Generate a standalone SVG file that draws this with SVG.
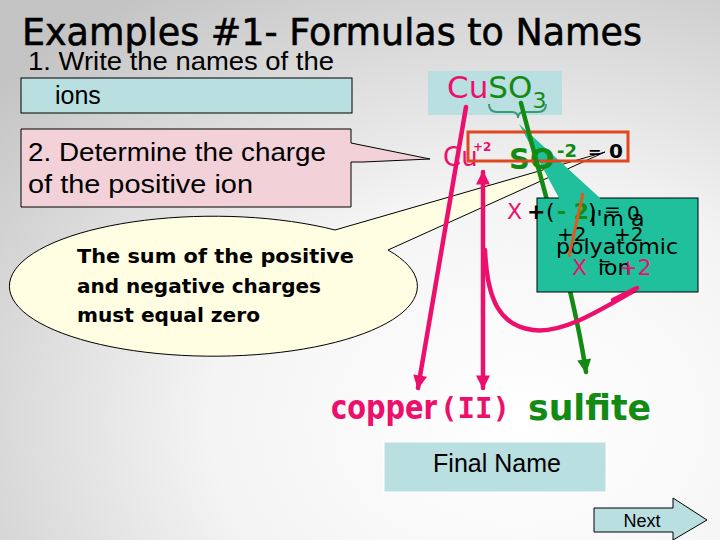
<svg xmlns="http://www.w3.org/2000/svg" width="720" height="540" viewBox="0 0 720 540">
<defs>
<radialGradient id="bg" cx="0.72" cy="0.78" r="0.95">
<stop offset="0" stop-color="#ffffff"/>
<stop offset="0.45" stop-color="#f4f4f4"/>
<stop offset="1" stop-color="#c4c4c4"/>
</radialGradient>
<marker id="ap" viewBox="0 0 10 10" refX="9" refY="5" markerWidth="16" markerHeight="14" markerUnits="userSpaceOnUse" orient="auto-start-reverse">
<path d="M0,0 L10,5 L0,10 Z" fill="#ec0f6c"/>
</marker>
<marker id="ag" viewBox="0 0 10 10" refX="9" refY="5" markerWidth="16" markerHeight="14" markerUnits="userSpaceOnUse" orient="auto">
<path d="M0,0 L10,5 L0,10 Z" fill="#138a13"/>
</marker>
<style>
.ar{font-family:"Liberation Sans",Arial,sans-serif;fill:#000}
.cm{font-family:"Comic Sans MS","DejaVu Sans",sans-serif}
.pk{fill:#ec0f6c}
.gn{fill:#138a13}
.bk{fill:#000}
.cyan{fill:#b9dfe1}
.pl{stroke:#ec0f6c;stroke-width:4.5;fill:none;stroke-linecap:round}
.gl{stroke:#138a13;stroke-width:4.5;fill:none;stroke-linecap:round}
</style>
</defs>
<rect width="720" height="540" fill="url(#bg)"/>

<g id="title">
<text class="cm bk" x="22" y="45" font-size="38" stroke="#000" stroke-width="0.6" textLength="620" lengthAdjust="spacingAndGlyphs">Examples #1- Formulas to Names</text>
</g>

<g id="step1">
<text class="ar" x="28" y="70" font-size="25" textLength="306" lengthAdjust="spacingAndGlyphs">1. Write the names of the</text>
<rect x="21" y="78" width="331" height="35" class="cyan" stroke="#000" stroke-width="1"/>
<text class="ar" x="55" y="104" font-size="25">ions</text>
</g>

<g id="formula">
<rect x="428" y="71" width="134" height="44" class="cyan"/>
<text class="cm" x="447" y="98" font-size="31"><tspan class="pk">Cu</tspan><tspan class="gn">SO</tspan><tspan class="gn" font-size="22" dy="10">3</tspan></text>
<path d="M489,104 Q489,112 497,112 L512,112 Q518,112 518,118 Q518,112 524,112 L538,112 Q546,112 546,104" fill="none" stroke="#3a9a78" stroke-width="2"/>
</g>

<g id="step2">
<path d="M21,129 H351 V143 L430,159 L363,162 H351 V207 H21 Z" fill="#f2d1d9" stroke="#000" stroke-width="1"/>
<text class="ar" x="28" y="161" font-size="25" textLength="298" lengthAdjust="spacingAndGlyphs">2. Determine the charge</text>
<text class="ar" x="28" y="193" font-size="25" textLength="225" lengthAdjust="spacingAndGlyphs">of  the positive ion</text>
</g>

<g id="bubble">
<path d="M335,230 L605,152 L388,250 A204,70 0 1,1 335,230 Z" fill="#fffde2" stroke="#000" stroke-width="1"/>
<text class="cm bk" x="77" y="263" font-size="20" font-weight="bold" textLength="277" lengthAdjust="spacingAndGlyphs">The sum of the positive</text>
<text class="cm bk" x="77" y="293" font-size="20" font-weight="bold" textLength="244" lengthAdjust="spacingAndGlyphs">and negative charges</text>
<text class="cm bk" x="77" y="322" font-size="20" font-weight="bold" textLength="183" lengthAdjust="spacingAndGlyphs">must equal zero</text>
</g>

<g id="teal-callout">
<path d="M537,198 H559 L519,124 L600,198 H698 V292 H537 Z" fill="#1fc09b"/>
</g>

<g id="charges">
<text class="cm pk" x="443" y="166" font-size="26">Cu</text>
<text class="cm pk" x="473" y="151" font-size="12" font-weight="bold">+2</text>
<text class="cm gn" x="509" y="169" font-size="29" font-weight="bold">SO</text>
<text class="cm gn" x="557" y="157" font-size="18" font-weight="bold">-2</text>
<text class="cm bk" x="588" y="157" font-size="16" font-weight="bold">=</text>
<text class="cm bk" x="609" y="158" font-size="20" font-weight="bold">0</text>
<rect x="468" y="132" width="160" height="29" fill="none" stroke="#e0461f" stroke-width="3"/>
</g>

<g id="connectors">
<path class="gl" d="M521,103 C538,170 574,290 586,372" marker-end="url(#ag)"/>
<path class="pl" d="M466,107 L418,388" marker-end="url(#ap)"/>
<path class="pl" d="M483,172 L483,388" marker-start="url(#ap)" marker-end="url(#ap)"/>
<path class="pl" d="M637,289 C600,310 563,334 533,330 C500,326 487,300 485,250"/>
</g>

<g id="teal-box">
<rect x="537" y="198" width="161" height="94" fill="#1fc09b" stroke="#000" stroke-width="1"/>
<path d="M559,198 L600,198" stroke="#1fc09b" stroke-width="2"/>
<text class="cm pk" x="507" y="219" font-size="22">X</text>
<text class="cm bk" x="527" y="219" font-size="22" font-weight="bold">+</text>
<text class="cm bk" x="546" y="219" font-size="22">(</text>
<text class="cm gn" x="557" y="219" font-size="22" font-weight="bold">- 2</text>
<text class="cm bk" x="588" y="219" font-size="22">)</text>
<text class="cm bk" x="604" y="216" font-size="20">=</text>
<text class="cm bk" x="627" y="220" font-size="20">0</text>
<text class="cm bk" x="590" y="226" font-size="22">I'm a</text>
<text class="cm bk" x="557" y="241" font-size="20">+2</text>
<text class="cm bk" x="614" y="241" font-size="20">+2</text>
<text class="cm bk" x="556" y="254" font-size="22" textLength="122" lengthAdjust="spacingAndGlyphs">polyatomic</text>
<text class="cm pk" x="572" y="275" font-size="22">X</text>
<text class="cm bk" x="598" y="275" font-size="22">ion</text>
<text class="cm bk" x="598" y="268" font-size="16">=</text>
<text class="cm pk" x="619" y="275" font-size="22">+2</text>
<path d="M583,193 L569,257" stroke="#e0581f" stroke-width="3" fill="none"/>
<path class="pl" d="M613,300 L637,288"/>
</g>

<g id="name">
<text class="cm pk" x="331" y="419" font-size="34" font-weight="bold" textLength="106" lengthAdjust="spacingAndGlyphs">copper</text>
<text x="440" y="418" font-size="29" font-weight="bold" font-family="'DejaVu Sans Mono','Liberation Mono',monospace" class="pk" textLength="70" lengthAdjust="spacingAndGlyphs">(II)</text>
<text class="cm gn" x="528" y="420" font-size="36" font-weight="bold" textLength="123" lengthAdjust="spacingAndGlyphs">sulfite</text>
</g>

<g id="final-name">
<rect x="384" y="442" width="222" height="50" class="cyan" stroke="#ffffff" stroke-width="1"/>
<text class="ar" x="497" y="472" font-size="25" text-anchor="middle">Final Name</text>
</g>

<g id="next">
<path d="M594,508 H673 V498 L707,520 L673,540 V532 H594 Z" class="cyan" stroke="#000" stroke-width="1"/>
<text class="ar" x="642" y="527" font-size="18" text-anchor="middle">Next</text>
</g>
</svg>
